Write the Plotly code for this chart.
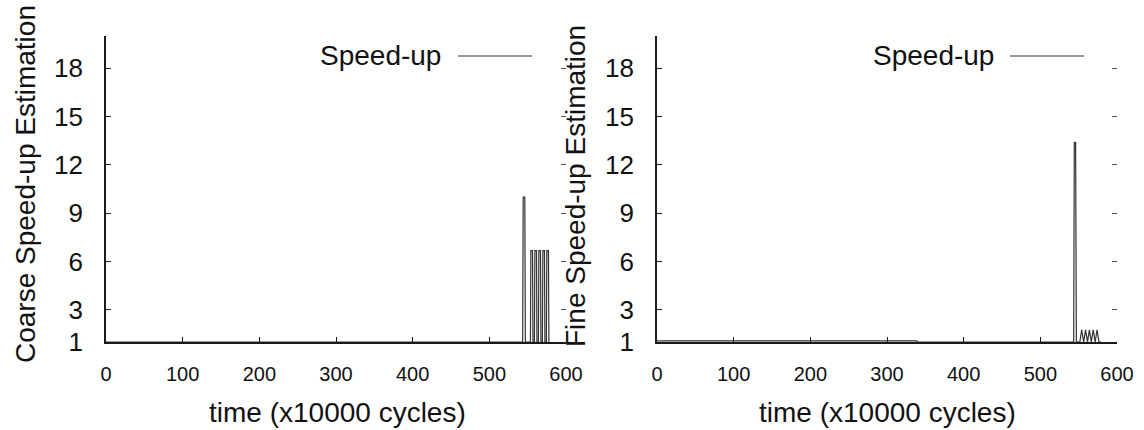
import plotly.graph_objects as go

# ---- data (time in x10000 cycles, speed-up estimation) ----
coarse_time = [0, 543.5, 544.2, 546.3, 547.0,
               553.6, 554.2, 556.3, 556.9,
               558.8, 559.4, 561.5, 562.1,
               564.0, 564.6, 566.7, 567.3,
               569.2, 569.8, 571.9, 572.5,
               574.4, 575.0, 577.1, 577.7]
coarse_speedup = [1, 1, 10, 10, 1,
                  1, 6.67, 6.67, 1,
                  1, 6.67, 6.67, 1,
                  1, 6.67, 6.67, 1,
                  1, 6.67, 6.67, 1,
                  1, 6.67, 6.67, 1]

fine_time = [0, 339, 339.5, 543.5, 544.3, 546.0, 547.0,
             551.5, 554.0, 556.5, 559.0, 561.5, 564.0, 566.5, 569.0, 571.5, 574.0, 576.5, 579]
fine_speedup = [1.07, 1.07, 1.0, 1.0, 13.4, 13.4, 1.0,
                1.0, 1.75, 1.0, 1.75, 1.0, 1.75, 1.0, 1.75, 1.0, 1.75, 1.0, 1.0]

x_ticks = [0, 100, 200, 300, 400, 500, 600]
y_ticks = [1, 3, 6, 9, 12, 15, 18]
series_name = "Speed-up"
x_title = "time (x10000 cycles)"
y_titles = ["Coarse Speed-up Estimation", "Fine Speed-up Estimation"]

W, H = 1144, 430
FONT = "Liberation Sans, Arial, Helvetica, sans-serif"
LINE_COLOR = "#333333"
AX_COLOR = "#1a1a1a"

fig = go.Figure()
fig.add_trace(go.Scatter(x=coarse_time, y=coarse_speedup, mode="lines", name=series_name,
                         line=dict(color=LINE_COLOR, width=1.2), xaxis="x", yaxis="y",
                         showlegend=False))
fig.add_trace(go.Scatter(x=fine_time, y=fine_speedup, mode="lines", name=series_name,
                         line=dict(color=LINE_COLOR, width=1.2), xaxis="x2", yaxis="y2",
                         showlegend=False))
# empty traces so the right-hand mirror tick axes are drawn
for xa, ya in (("x", "y3"), ("x2", "y4")):
    fig.add_trace(go.Scatter(x=[None], y=[None], mode="lines", xaxis=xa, yaxis=ya,
                             showlegend=False, hoverinfo="skip"))

xd1 = [106 / W, 566 / W]
xd2 = [657 / W, 1117 / W]
yd = [1 - 342 / H, 1 - 36 / H]

xcommon = dict(range=[0, 600], tickvals=x_ticks, ticks="inside", ticklen=5, tickwidth=1.2,
               tickcolor=AX_COLOR, showline=True, linecolor=AX_COLOR, linewidth=1.6,
               showgrid=False, zeroline=False, tickfont=dict(family=FONT, size=20, color="#111"),
               ticklabelstandoff=13, automargin=False)
ycommon = dict(range=[1, 20], tickvals=y_ticks, ticks="inside", ticklen=5, tickwidth=1.2,
               tickcolor=AX_COLOR, showline=True, linecolor=AX_COLOR, linewidth=1.6,
               showgrid=False, zeroline=False, tickfont=dict(family=FONT, size=26, color="#111"),
               ticklabelstandoff=16, automargin=False)
ymirror = dict(range=[1, 20], tickvals=y_ticks, ticks="inside", ticklen=5, tickwidth=1.2,
               tickcolor="#555", showline=False, showgrid=False, zeroline=False,
               showticklabels=False, side="right", automargin=False)

fig.update_layout(
    width=W, height=H,
    margin=dict(l=0, r=0, t=0, b=0, autoexpand=False),
    paper_bgcolor="white", plot_bgcolor="white",
    showlegend=False,
    xaxis=dict(domain=xd1, anchor="y", **xcommon),
    yaxis=dict(domain=yd, anchor="x", **ycommon),
    xaxis2=dict(domain=xd2, anchor="y2", **xcommon),
    yaxis2=dict(domain=yd, anchor="x2", **ycommon),
    yaxis3=dict(overlaying="y", anchor="x", **ymirror),
    yaxis4=dict(overlaying="y2", anchor="x2", **ymirror),
)

ann = []
# axis titles
for cx in (337, 887):
    ann.append(dict(text=x_title, x=cx / W, y=1 - 412 / H, xref="paper", yref="paper",
                    showarrow=False, xanchor="center", yanchor="middle",
                    font=dict(family=FONT, size=28, color="#111")))
for (cx, cy), t in zip([(25, 184), (576, 186)], y_titles):
    ann.append(dict(text=t, x=cx / W, y=1 - cy / H, xref="paper", yref="paper",
                    showarrow=False, xanchor="center", yanchor="middle", textangle=-90,
                    font=dict(family=FONT, size=28, color="#111")))
# key (legend) entries: text with line sample to the right
shapes = []
for tx, l0, l1 in [(443, 458, 532), (996, 1010, 1084)]:
    ann.append(dict(text=series_name, x=tx / W, y=1 - 55 / H, xref="paper", yref="paper",
                    showarrow=False, xanchor="right", yanchor="middle",
                    font=dict(family=FONT, size=28, color="#111")))
    shapes.append(dict(type="line", xref="paper", yref="paper", x0=l0 / W, x1=l1 / W,
                       y0=1 - 56 / H, y1=1 - 56 / H, line=dict(color=LINE_COLOR, width=1.2)))

fig.update_layout(annotations=ann, shapes=shapes)

fig.write_html("out.html", config={"displayModeBar": False},
               post_script="document.body.style.margin='0px';document.body.style.overflow='hidden';")
